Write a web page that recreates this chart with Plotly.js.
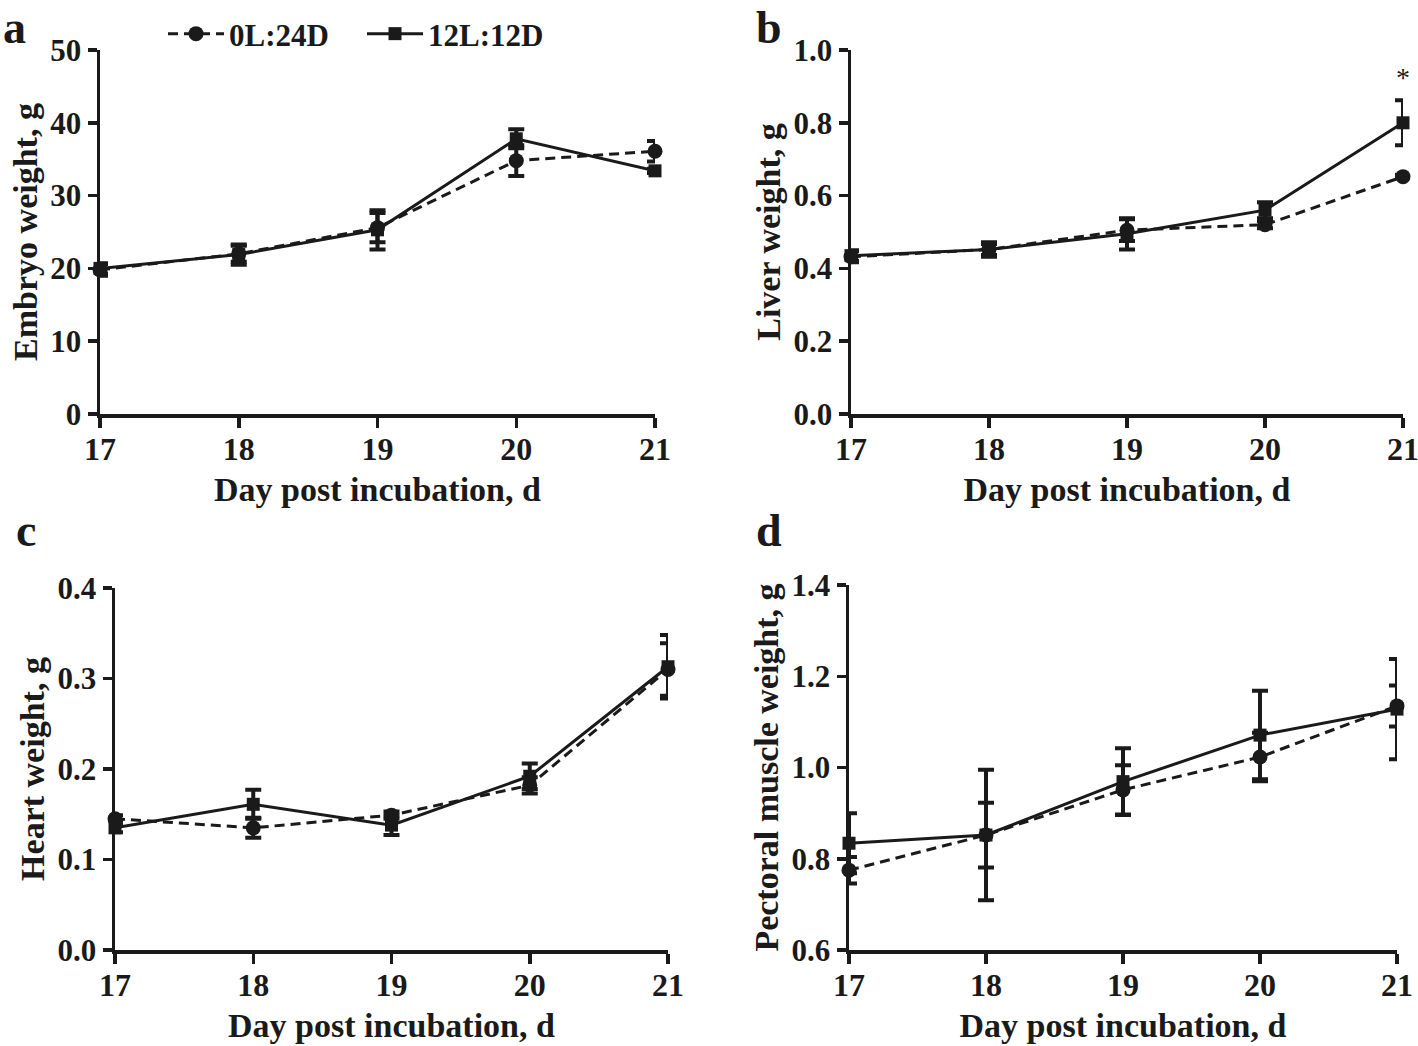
<!DOCTYPE html>
<html>
<head>
<meta charset="utf-8">
<script src="https://cdn.plot.ly/plotly-3.0.1.min.js"></script>
<style>
  html, body { margin: 0; padding: 0; background: #fff; }
  #chart { width: 1418px; height: 1046px; }
</style>
</head>
<body>
<div id="chart"></div>
<script>
// ---- data ----
const days = [17, 18, 19, 20, 21];
const seriesNames = ["0L:24D", "12L:12D"];

const embryo_0L = [19.8, 22.0, 25.6, 34.8, 36.1];
const embryo_0L_err = [0.8, 1.1, 2.0, 2.1, 1.4];
const embryo_12L = [20.0, 21.9, 25.3, 37.8, 33.4];
const embryo_12L_err = [0.7, 1.4, 2.7, 1.3, 0.3];

const liver_0L = [0.432, 0.452, 0.505, 0.520, 0.652];
const liver_0L_err = [0.015, 0.015, 0.030, 0.010, 0.005];
const liver_12L = [0.435, 0.452, 0.495, 0.560, 0.800];
const liver_12L_err = [0.015, 0.020, 0.043, 0.022, 0.062];

const heart_0L = [0.145, 0.135, 0.149, 0.182, 0.310];
const heart_0L_err = [0.004, 0.011, 0.004, 0.009, 0.029];
const heart_12L = [0.135, 0.161, 0.138, 0.192, 0.313];
const heart_12L_err = [0.005, 0.016, 0.011, 0.014, 0.035];

const pect_0L = [0.775, 0.852, 0.951, 1.023, 1.135];
const pect_0L_err = [0.029, 0.071, 0.054, 0.053, 0.045];
const pect_12L = [0.834, 0.852, 0.969, 1.071, 1.128];
const pect_12L_err = [0.066, 0.143, 0.073, 0.097, 0.110];

const yTitles = ["Embryo weight, g", "Liver weight, g", "Heart weight, g", "Pectoral muscle weight, g"];
const xTitle = "Day post incubation, d";
const panelLetters = ["a", "b", "c", "d"];
const significance = "*";

// ---- build ----
const FONT = "Liberation Serif, Times New Roman, serif";
const INK = "#1a1a1a";
const W = 1418, H = 1046;
const px = (a, b) => [a / W, b / W];
const py = (top, bottom) => [1 - bottom / H, 1 - top / H];

const panels = [
  {d0: embryo_0L, e0: embryo_0L_err, d1: embryo_12L, e1: embryo_12L_err, xd: px(100, 655), yd: py(50, 414), yr: [0, 50], dt: 10, fmt: ""},
  {d0: liver_0L, e0: liver_0L_err, d1: liver_12L, e1: liver_12L_err, xd: px(851, 1403), yd: py(50, 414), yr: [0, 1.0], dt: 0.2, fmt: ".1f"},
  {d0: heart_0L, e0: heart_0L_err, d1: heart_12L, e1: heart_12L_err, xd: px(115, 668), yd: py(588, 950), yr: [0, 0.4], dt: 0.1, fmt: ".1f"},
  {d0: pect_0L, e0: pect_0L_err, d1: pect_12L, e1: pect_12L_err, xd: px(849, 1397), yd: py(585, 950), yr: [0.6, 1.4], dt: 0.2, fmt: ".1f"}
];

const traces = [];
const layout = {
  width: W, height: H,
  margin: {l: 0, r: 0, t: 0, b: 0},
  paper_bgcolor: "#fff", plot_bgcolor: "#fff",
  font: {family: FONT, color: INK, size: 28, weight: "bold"},
  showlegend: true,
  legend: {
    orientation: "h", x: 163 / W, y: 1 - 7 / H, xanchor: "left", yanchor: "top",
    font: {family: FONT, size: 31, weight: "bold", color: INK},
    itemwidth: 56, entrywidth: 128, tracegroupgap: 0, bgcolor: "rgba(0,0,0,0)"
  },
  annotations: []
};

panels.forEach((p, i) => {
  const n = i + 1;
  const xa = "x" + (n === 1 ? "" : n), ya = "y" + (n === 1 ? "" : n);
  const common = {x: days, xaxis: xa, yaxis: ya, type: "scatter", mode: "lines+markers", cliponaxis: false};
  traces.push(Object.assign({}, common, {
    name: seriesNames[0], y: p.d0, showlegend: i === 0, legendgroup: "g0",
    line: {color: INK, width: 3, dash: "10px,6px"},
    marker: {symbol: "circle", size: 15, color: INK},
    error_y: {type: "data", array: p.e0, visible: true, color: INK, thickness: 4, width: 8}
  }));
  traces.push(Object.assign({}, common, {
    name: seriesNames[1], y: p.d1, showlegend: i === 0, legendgroup: "g1",
    line: {color: INK, width: 3},
    marker: {symbol: "square", size: 13, color: INK},
    error_y: {type: "data", array: p.e1, visible: true, color: INK, thickness: 4, width: 8}
  }));
  const xk = "xaxis" + (n === 1 ? "" : n), yk = "yaxis" + (n === 1 ? "" : n);
  layout[xk] = {
    domain: p.xd, anchor: ya, range: [17, 21], tickvals: days, ticktext: days.map(String),
    showline: true, linecolor: INK, linewidth: 3.5, ticks: "outside", ticklen: 10, tickwidth: 3.5, tickcolor: INK,
    showgrid: false, zeroline: false, ticklabelstandoff: -6, ticklabeloverflow: "allow",
    tickfont: {family: FONT, size: 32, weight: "bold", color: INK},
    title: {text: xTitle, font: {family: FONT, size: 34, weight: "bold", color: INK}, standoff: 12}
  };
  layout[yk] = {
    domain: p.yd, anchor: xa, range: p.yr, dtick: p.dt, tick0: p.yr[0], tickformat: p.fmt,
    showline: true, linecolor: INK, linewidth: 3.5, ticks: "outside", ticklen: 9, tickwidth: 3.5, tickcolor: INK,
    showgrid: false, zeroline: false,
    tickfont: {family: FONT, size: 31, weight: "bold", color: INK},
    title: {text: yTitles[i], font: {family: FONT, size: 34, weight: "bold", color: INK}, standoff: 3}
  };
});

// panel letters
const letterPos = [[1, 0], [754, 0], [14, 503], [754, 503]];
panelLetters.forEach((t, i) => {
  layout.annotations.push({
    text: t, xref: "paper", yref: "paper", x: letterPos[i][0] / W, y: 1 - letterPos[i][1] / H,
    xanchor: "left", yanchor: "top", showarrow: false,
    font: {family: FONT, size: 46, weight: "bold", color: INK}
  });
});
// significance star on liver day 21
layout.annotations.push({
  text: significance, xref: "x2", yref: "y2", x: days[4], y: 0.925,
  showarrow: false, font: {family: FONT, size: 28, weight: "normal", color: INK}
});

Plotly.newPlot("chart", traces, layout, {displayModeBar: false, staticPlot: true});
</script>
</body>
</html>
